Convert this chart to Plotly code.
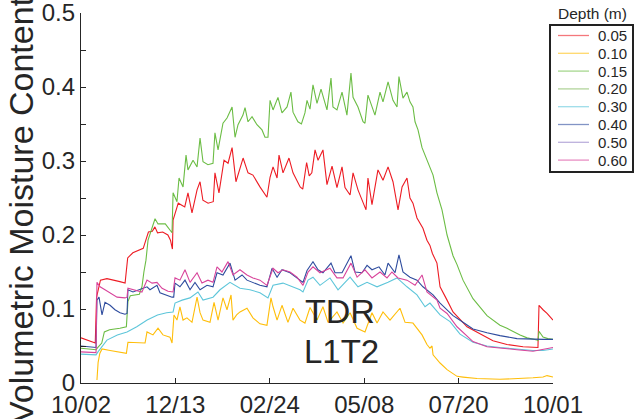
import plotly.graph_objects as go

# Sensor depths (m) and their line colours
depths = ["0.05", "0.10", "0.15", "0.20", "0.30", "0.40", "0.50", "0.60"]
colors = ["#ED1C24", "#FFBE0A", "#6CBD45", "#7FB858", "#5EC6DA", "#2E4C9E", "#8F7CC6", "#D8449B"]

# Time axis: days since 10/02, labelled at fifths of the season
tick_days = [0, 72.8, 145.6, 218.4, 291.2, 364]
tick_labels = ["10/02", "12/13", "02/24", "05/08", "07/20", "10/01"]

y_tick_vals = [0, 0.05, 0.1, 0.15, 0.2, 0.25, 0.3, 0.35, 0.4, 0.45, 0.5]
y_tick_text = ["0", "", "0.1", "", "0.2", "", "0.3", "", "0.4", "", "0.5"]

# 0.05 m
day_005 = [0, 5, 11, 12, 15, 20, 26, 30, 34, 36, 40, 45, 48, 50, 52, 55, 57, 59, 63, 67,
           69, 70.5, 71, 75, 80, 82.5, 85.6, 89.5, 91.8, 94, 98, 102, 103.3, 106.4, 110.3,
           113.4, 116.5, 119.5, 122.6, 125, 128.8, 132.6, 138, 143.4, 145.8, 148.1, 151.2,
           152.7, 155.8, 160.4, 163.5, 169, 171, 174, 176, 178, 180.5, 182.8, 186.6, 189.7,
           193.6, 197.4, 201.3, 203.6, 207.5, 209.8, 213.6, 217.5, 219.8, 221.3, 224.4, 229,
           232.9, 236.8, 240.6, 244.5, 247.6, 251.4, 253.7, 256, 259.1, 263.7, 266.8, 269.1,
           271, 274.5, 276.9, 282.3, 286.9, 297.7, 307.7, 317.7, 328.5, 340.9, 352.4, 353.2,
           356.3, 359.4, 364]
vwc_005 = [0.061, 0.058, 0.054, 0.116, 0.139, 0.141, 0.139, 0.137, 0.135, 0.169, 0.176, 0.180,
           0.182, 0.193, 0.204, 0.205, 0.211, 0.203, 0.204, 0.200, 0.193, 0.181, 0.220, 0.243,
           0.238, 0.257, 0.230, 0.261, 0.272, 0.247, 0.243, 0.245, 0.284, 0.257, 0.301, 0.297,
           0.318, 0.272, 0.292, 0.304, 0.284, 0.281, 0.265, 0.251, 0.278, 0.292, 0.277, 0.308,
           0.284, 0.304, 0.284, 0.265, 0.262, 0.298, 0.280, 0.284, 0.315, 0.301, 0.315, 0.268,
           0.293, 0.264, 0.292, 0.264, 0.254, 0.284, 0.261, 0.243, 0.234, 0.277, 0.241, 0.288,
           0.274, 0.292, 0.272, 0.234, 0.265, 0.277, 0.250, 0.243, 0.223, 0.209, 0.193, 0.186,
           0.175, 0.162, 0.130, 0.112, 0.096, 0.076, 0.066, 0.057, 0.052, 0.049, 0.048, 0.105,
           0.099, 0.094, 0.085]

# 0.10 m (logger started a little later)
day_010 = [12.3, 13.2, 14.5, 16.2, 22.4, 30.1, 35, 36.2, 43.2, 49.4, 50.9, 55.5, 59.4, 63.2,
           68.6, 70.2, 71.7, 74, 76.3, 78.7, 81.7, 85.6, 89.5, 91.8, 94.1, 99.5, 102.6, 105.7,
           109.5, 112.6, 115.7, 117.2, 120, 122.6, 128, 132.6, 138, 143.4, 146.5, 148.1, 151.2,
           155, 159.6, 163.5, 168.9, 172.7, 176.6, 182, 186.6, 190.5, 197.4, 202.1, 207.5,
           212.9, 219, 224.4, 228.3, 232.9, 238.3, 246, 249.9, 256, 263, 266.8, 269.1, 270.7,
           271.5, 274.5, 276.9, 282.3, 286.9, 290, 294.6, 305.4, 323.1, 340, 348.6, 356.3,
           359.4, 364]
vwc_010 = [0.004, 0.028, 0.040, 0.046, 0.044, 0.041, 0.040, 0.055, 0.054, 0.054, 0.069, 0.065,
           0.074, 0.065, 0.062, 0.054, 0.092, 0.085, 0.103, 0.085, 0.088, 0.082, 0.116, 0.095,
           0.085, 0.082, 0.109, 0.085, 0.115, 0.099, 0.119, 0.085, 0.092, 0.096, 0.101, 0.088,
           0.080, 0.078, 0.115, 0.103, 0.085, 0.105, 0.082, 0.101, 0.085, 0.081, 0.102, 0.085,
           0.103, 0.082, 0.096, 0.081, 0.095, 0.074, 0.069, 0.095, 0.081, 0.096, 0.085, 0.101,
           0.082, 0.081, 0.065, 0.052, 0.047, 0.050, 0.038, 0.031, 0.027, 0.018, 0.012, 0.009,
           0.008, 0.006, 0.005, 0.006, 0.007, 0.008, 0.010, 0.008]

# 0.15 m
day_015 = [0, 6, 11.6, 13, 16, 18, 22, 30, 35, 36.2, 38, 45, 47, 48.5, 50.1, 51.7, 55, 57.1,
           59.4, 65, 70.2, 71, 74, 75.6, 78.7, 81, 82.5, 86.4, 89.5, 91.8, 94.1, 97.9, 101.8,
           103.3, 105.7, 109.5, 112.6, 116.5, 118.8, 121.1, 124.9, 126.5, 128.8, 131.9, 135.7,
           139.6, 141.9, 144.2, 145.8, 148.1, 151.9, 155, 158.9, 161.9, 163.5, 167.3, 170,
           172.7, 174.3, 176.6, 178.9, 182, 185.1, 189.7, 192.8, 194.3, 197.4, 201.3, 205.1,
           208.2, 209.8, 213.6, 217.5, 219, 221.3, 224.4, 226.7, 230.6, 232.9, 236.8, 240.6,
           243.7, 245.2, 248.3, 251.4, 253.7, 256, 257.6, 259.9, 263, 267.6, 271.5, 274.5,
           278.4, 282.3, 286.9, 290, 294.6, 302.3, 313.1, 323.1, 328.5, 338.6, 344, 351.7,
           352.4, 353.2, 356.3, 360, 364]
vwc_015 = [0.047, 0.046, 0.045, 0.048, 0.054, 0.069, 0.072, 0.074, 0.076, 0.110, 0.118, 0.120,
           0.130, 0.150, 0.166, 0.193, 0.210, 0.222, 0.215, 0.215, 0.203, 0.257, 0.245, 0.277,
           0.265, 0.308, 0.288, 0.301, 0.292, 0.331, 0.299, 0.295, 0.297, 0.338, 0.315, 0.351,
           0.358, 0.373, 0.332, 0.349, 0.362, 0.372, 0.353, 0.360, 0.349, 0.342, 0.332, 0.332,
           0.382, 0.369, 0.386, 0.365, 0.373, 0.393, 0.366, 0.353, 0.350, 0.365, 0.382, 0.370,
           0.403, 0.378, 0.397, 0.369, 0.412, 0.373, 0.369, 0.393, 0.362, 0.419, 0.386, 0.373,
           0.353, 0.351, 0.389, 0.373, 0.362, 0.393, 0.380, 0.407, 0.382, 0.373, 0.414, 0.385,
           0.393, 0.380, 0.373, 0.353, 0.342, 0.318, 0.297, 0.281, 0.257, 0.234, 0.200, 0.172,
           0.160, 0.139, 0.114, 0.091, 0.078, 0.074, 0.065, 0.061, 0.058, 0.057, 0.070, 0.062,
           0.060, 0.059]

# 0.20 m: no valid readings this season
day_020 = [None]
vwc_020 = [None]

# 0.30 m
day_030 = [0, 6, 11.6, 13.1, 20, 28, 35.5, 43, 51, 59, 66, 71, 72.5, 78, 84, 90.2, 94.1,
           101.8, 107.2, 114.9, 122.6, 130.3, 138, 144.2, 148.1, 155.8, 163.5, 168.9, 171.2,
           175.1, 178.9, 184.3, 192, 198.2, 207.5, 213.6, 220.6, 228.3, 236.8, 243.7, 251.4,
           259.1, 265.3, 269.1, 276.9, 284.6, 290, 292.3, 302.3, 313.1, 323.1, 336.2, 348.6,
           356.3, 364]
vwc_030 = [0.039, 0.038, 0.038, 0.042, 0.058, 0.065, 0.069, 0.076, 0.085, 0.092, 0.095, 0.096,
           0.108, 0.112, 0.115, 0.123, 0.112, 0.116, 0.126, 0.136, 0.128, 0.126, 0.122, 0.115,
           0.132, 0.135, 0.130, 0.126, 0.123, 0.139, 0.143, 0.132, 0.142, 0.126, 0.143, 0.130,
           0.136, 0.130, 0.136, 0.142, 0.130, 0.119, 0.103, 0.108, 0.092, 0.083, 0.071, 0.066,
           0.055, 0.050, 0.048, 0.046, 0.044, 0.044, 0.046]

# 0.40 m
day_040 = [0, 6, 11.6, 12.3, 13.9, 16.2, 18.5, 22.4, 26.2, 30.1, 33.9, 35.5, 36.2, 40.1, 45.5,
           50.9, 53.2, 58.6, 60.9, 66.3, 70.2, 71.5, 72.5, 76.3, 80.2, 84.1, 87.9, 91.8, 97.2,
           101.8, 104.9, 109.5, 114.9, 118.8, 124.2, 128, 132.6, 138, 143.4, 147.3, 151.2, 155,
           161.2, 166.6, 171.2, 174.3, 178.9, 182.8, 186.6, 192.8, 195.9, 201.3, 208.2, 211.3,
           216.7, 220.6, 224.4, 229.8, 234.4, 236.8, 242.2, 245.2, 248.3, 253.7, 259.1, 263.7,
           271.5, 276.9, 286.9, 294.6, 302.3, 313.1, 323.1, 336.2, 348.6, 356.3, 364]
vwc_040 = [0.050, 0.049, 0.048, 0.112, 0.116, 0.092, 0.109, 0.105, 0.099, 0.095, 0.093, 0.094,
           0.126, 0.123, 0.126, 0.130, 0.126, 0.132, 0.122, 0.118, 0.116, 0.116, 0.135, 0.130,
           0.139, 0.126, 0.136, 0.126, 0.132, 0.130, 0.149, 0.146, 0.162, 0.139, 0.146, 0.139,
           0.136, 0.132, 0.130, 0.155, 0.143, 0.153, 0.149, 0.142, 0.136, 0.152, 0.164, 0.153,
           0.149, 0.162, 0.149, 0.149, 0.172, 0.150, 0.149, 0.159, 0.153, 0.157, 0.146, 0.162,
           0.149, 0.173, 0.150, 0.143, 0.139, 0.130, 0.119, 0.108, 0.091, 0.082, 0.073, 0.068,
           0.064, 0.060, 0.059, 0.059, 0.059]

# 0.50 m: no valid readings this season
day_050 = [None]
vwc_050 = [None]

# 0.60 m
day_060 = [0, 6, 11.6, 12.3, 14.7, 18.5, 22.4, 27.8, 33.9, 35.5, 36.2, 41.6, 47, 50.9, 54.8,
           58.6, 62.5, 67.1, 71, 72.5, 76.3, 80.2, 84.1, 89.5, 93.3, 97.9, 101.8, 104.9, 108.7,
           113.4, 117.2, 122.6, 128, 132.6, 138, 143.4, 148.1, 151.9, 155.8, 161.2, 166.6,
           171.2, 175.1, 178.9, 184.3, 192, 197.4, 202.1, 208.2, 212.9, 219, 224.4, 230.6, 236,
           239.8, 244.5, 251.4, 257.6, 263, 266.8, 274.5, 276.9, 282.3, 290, 297.7, 302.3,
           313.1, 323.1, 336.2, 348.6, 356.3, 364]
vwc_060 = [0.042, 0.041, 0.041, 0.136, 0.130, 0.126, 0.122, 0.116, 0.115, 0.116, 0.128, 0.126,
           0.123, 0.139, 0.135, 0.136, 0.128, 0.124, 0.123, 0.142, 0.139, 0.153, 0.136, 0.149,
           0.135, 0.139, 0.136, 0.157, 0.150, 0.164, 0.146, 0.153, 0.146, 0.142, 0.139, 0.132,
           0.155, 0.149, 0.153, 0.150, 0.143, 0.132, 0.150, 0.157, 0.149, 0.155, 0.142, 0.142,
           0.162, 0.143, 0.153, 0.142, 0.150, 0.142, 0.150, 0.142, 0.139, 0.132, 0.146, 0.123,
           0.112, 0.101, 0.094, 0.076, 0.064, 0.056, 0.049, 0.047, 0.045, 0.043, 0.045, 0.048]

series_days = [day_005, day_010, day_015, day_020, day_030, day_040, day_050, day_060]
series_vwc = [vwc_005, vwc_010, vwc_015, vwc_020, vwc_030, vwc_040, vwc_050, vwc_060]
for d, v in zip(series_days, series_vwc):
    assert len(d) == len(v)

FONT = "Liberation Sans, Arial, Helvetica, sans-serif"
INK = "#262626"

# Page geometry (px): plot area and the boxed key at the upper right
W, H = 634, 419
M_L, M_R, M_T, M_B = 81, 81, 13, 36
PLOT_W, PLOT_H = W - M_L - M_R, H - M_T - M_B


def px_x(px):
    return (px - M_L) / PLOT_W


def px_y(py):
    return (H - M_B - py) / PLOT_H


def soften(hex_color, keep=0.6):
    """Blend a colour toward white (thin key samples read paler than the data lines)."""
    r, g, b = (int(hex_color[i:i + 2], 16) for i in (1, 3, 5))
    mix = lambda c: round(c * keep + 255 * (1 - keep))
    return f"rgb({mix(r)},{mix(g)},{mix(b)})"


KEY_L, KEY_R, KEY_T, KEY_B = 550, 633, 25, 172
KEY_ROW0, KEY_STEP = 35.5, 17.8
KEY_LINE_X0, KEY_LINE_X1, KEY_TEXT_X = 558, 589, 596

fig = go.Figure()
for name, color, d, v in zip(depths, colors, series_days, series_vwc):
    fig.add_trace(go.Scatter(
        x=d, y=v, name=name, mode="lines",
        line=dict(color=color, width=1.1),
        connectgaps=False, showlegend=False,
    ))

shapes = [dict(type="rect", xref="paper", yref="paper",
               x0=px_x(KEY_L), x1=px_x(KEY_R), y0=px_y(KEY_B), y1=px_y(KEY_T),
               line=dict(color="#222222", width=2), fillcolor="white", layer="above")]
annotations = [
    dict(text="Volumetric Moisture Content", textangle=-90,
         xref="paper", yref="paper", x=px_x(21), y=px_y(210),
         xanchor="center", yanchor="middle", showarrow=False,
         font=dict(family=FONT, size=34, color=INK)),
    dict(text="Depth (m)", xref="paper", yref="paper", x=px_x(592), y=px_y(13),
         xanchor="center", yanchor="middle", showarrow=False,
         font=dict(family=FONT, size=15.5, color=INK)),
    dict(text="TDR", xref="x", yref="y", x=171, y=0.097,
         xanchor="left", yanchor="middle", showarrow=False,
         font=dict(family=FONT, size=34, color=INK)),
    dict(text="L1T2", xref="x", yref="y", x=170.5, y=0.043,
         xanchor="left", yanchor="middle", showarrow=False,
         font=dict(family=FONT, size=33, color=INK)),
]
for i, (name, color) in enumerate(zip(depths, colors)):
    row = KEY_ROW0 + i * KEY_STEP
    shapes.append(dict(type="line", xref="paper", yref="paper",
                       x0=px_x(KEY_LINE_X0), x1=px_x(KEY_LINE_X1),
                       y0=px_y(row), y1=px_y(row),
                       line=dict(color=soften(color), width=1.3), layer="above"))
    annotations.append(dict(text=name, xref="paper", yref="paper",
                            x=px_x(KEY_TEXT_X), y=px_y(row),
                            xanchor="left", yanchor="middle", showarrow=False,
                            font=dict(family=FONT, size=15, color=INK)))

fig.update_layout(
    width=W, height=H,
    margin=dict(l=M_L, r=M_R, t=M_T, b=M_B, autoexpand=False),
    paper_bgcolor="white", plot_bgcolor="white",
    font=dict(family=FONT, color=INK),
    showlegend=False,
    xaxis=dict(
        range=[0, 364], showgrid=False, zeroline=False,
        showline=True, linecolor=INK, linewidth=1.3,
        tickmode="array", tickvals=tick_days, ticktext=tick_labels,
        ticks="inside", ticklen=5, tickwidth=1.1, tickcolor=INK,
        tickfont=dict(family=FONT, size=24, color=INK),
        ticklabeloverflow="allow",
    ),
    yaxis=dict(
        range=[0, 0.5], showgrid=False, zeroline=False,
        showline=True, linecolor=INK, linewidth=1.3,
        tickmode="array", tickvals=y_tick_vals, ticktext=y_tick_text,
        ticks="inside", ticklen=5, tickwidth=1.1, tickcolor=INK,
        tickfont=dict(family=FONT, size=24, color=INK),
        ticklabeloverflow="allow",
    ),
    shapes=shapes,
    annotations=annotations,
)

fig.write_html("out.html")
